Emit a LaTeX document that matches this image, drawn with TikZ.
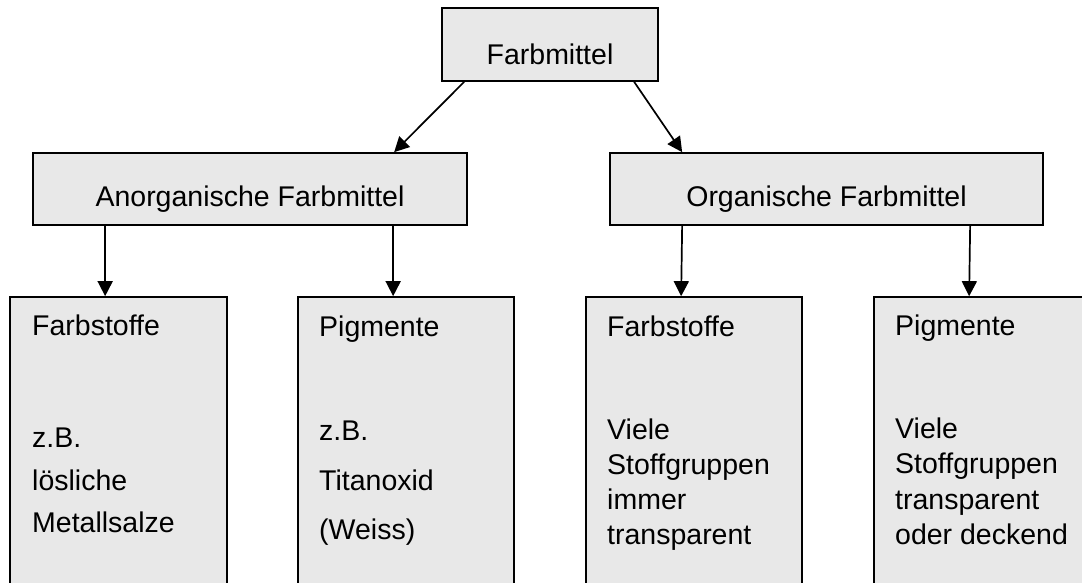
\documentclass[tikz,border=0pt]{standalone}
\usepackage{fontspec}
\setmainfont{Liberation Sans}
\usepackage{xcolor}
\usetikzlibrary{arrows.meta}
\definecolor{boxgray}{RGB}{232,232,232}

\begin{document}
\begin{tikzpicture}
    [x=1pt,y=-1pt,
     box/.style={draw=black,fill=boxgray,line width=1.7pt,inner sep=0pt},
     txt/.style={inner sep=0pt,font=\fontsize{28.5}{34}\selectfont},
     arr/.style={line width=1.7pt,-{Triangle[length=15pt,width=15pt]}}]
    \clip (0,0) rectangle (1082,583);
    % Kopf
    \node[box,minimum width=216pt,minimum height=73pt] (top) at (550,44.5) {};
    \node[txt,anchor=base] (top-t) at (550,65) {Farbmittel};

    % zweite Ebene
    \node[box,minimum width=434pt,minimum height=72pt] (anorg) at (250,189) {};
    \node[txt,anchor=base] (anorg-t) at (250,207) {Anorganische Farbmittel};
    \node[box,minimum width=433pt,minimum height=72pt] (org) at (826.5,189) {};
    \node[txt,anchor=base] (org-t) at (826.5,207) {Organische Farbmittel};

    % untere Kästen
    \node[box,minimum width=217pt,minimum height=320pt] (b1) at (118.5,457) {};
    \node[box,minimum width=216pt,minimum height=320pt] (b2) at (406,457) {};
    \node[box,minimum width=216pt,minimum height=320pt] (b3) at (694,457) {};
    \node[box,minimum width=216pt,minimum height=320pt] (b4) at (982,457) {};

    %Anorganisch
    \node[txt,anchor=base west] (b1-0) at (32,335) {Farbstoffe};
    \node[txt,anchor=base west] (b1-1) at (32,447) {z.B.};
    \node[txt,anchor=base west] (b1-2) at (32,490) {lösliche};
    \node[txt,anchor=base west] (b1-3) at (32,532) {Metallsalze};

    \node[txt,anchor=base west] (b2-0) at (319,336) {Pigmente};
    \node[txt,anchor=base west] (b2-1) at (319,440) {z.B.};
    \node[txt,anchor=base west] (b2-2) at (319,490) {Titanoxid};
    \node[txt,anchor=base west] (b2-3) at (319,539) {(Weiss)};

    %Organisch
    \node[txt,anchor=base west] (b3-0) at (607,336) {Farbstoffe};
    \node[txt,anchor=base west] (b3-1) at (607,439) {Viele};
    \node[txt,anchor=base west] (b3-2) at (607,474) {Stoffgruppen};
    \node[txt,anchor=base west] (b3-3) at (607,509) {immer};
    \node[txt,anchor=base west] (b3-4) at (607,544) {transparent};

    \node[txt,anchor=base west] (b4-0) at (895,335) {Pigmente};
    \node[txt,anchor=base west] (b4-1) at (895,438) {Viele};
    \node[txt,anchor=base west] (b4-2) at (895,473) {Stoffgruppen};
    \node[txt,anchor=base west] (b4-3) at (895,509) {transparent};
    \node[txt,anchor=base west] (b4-4) at (895,544) {oder deckend};

    \draw[arr] ([xshift=23pt]top.south west) -- ([xshift=362pt]anorg.north west);
    \draw[arr] ([xshift=193pt]top.south west) -- ([xshift=73pt]org.north west);
    \foreach \from/\to in {anorg/b1, org/b3}
    \draw[arr] ([xshift=73pt]\from.south west) -- ([xshift=96pt]\to.north west);
    \foreach \from/\to in {anorg/b2, org/b4}
    \draw[arr] ([xshift=361pt]\from.south west) -- ([xshift=96pt]\to.north west);
\end{tikzpicture}
\end{document}
